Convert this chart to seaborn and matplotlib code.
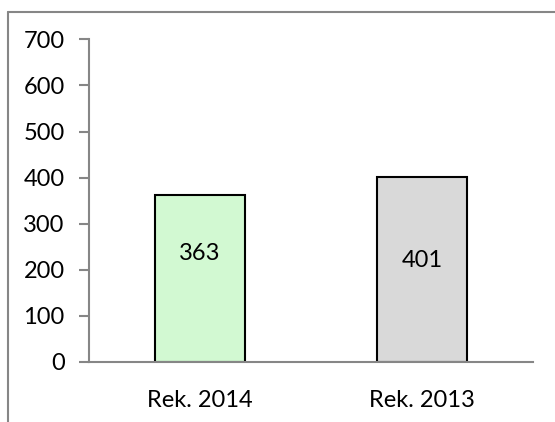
import matplotlib
matplotlib.use("Agg")
import matplotlib.pyplot as plt
from matplotlib.lines import Line2D
import seaborn as sns
import pandas as pd

# Values
categories = ["Rek. 2014", "Rek. 2013"]
values = [363, 401]
bar_colors = ["#CCFFCC", "#D9D9D9"]
y_ticks = [0, 100, 200, 300, 400, 500, 600, 700]

df = pd.DataFrame({"category": categories, "value": values})

sns.set_style("white")
plt.rcParams["font.family"] = ["Lato", "DejaVu Sans"]

fig = plt.figure(figsize=(5.55, 4.22), dpi=100)
ax = fig.add_axes([89 / 555, 1 - 362 / 422, (533 - 89) / 555, (362 - 39.3) / 422])

sns.barplot(data=df, x="category", y="value", hue="category",
            palette=bar_colors, width=0.405, edgecolor="black",
            linewidth=1.5, legend=False, ax=ax)

axis_gray = "#868686"
fs = 17
ax.set_ylim(0, 700)
ax.set_xlim(-0.5, 1.5)
ax.set_yticks(y_ticks)
ax.set_xlabel("")
ax.set_ylabel("")
for side in ("top", "right"):
    ax.spines[side].set_visible(False)
for side in ("left", "bottom"):
    ax.spines[side].set_color(axis_gray)
    ax.spines[side].set_linewidth(1.5)
ax.tick_params(axis="y", which="major", length=7, width=1.5, color=axis_gray,
               direction="out", left=True, labelsize=fs, pad=10.5)
ax.tick_params(axis="x", length=0, labelsize=fs, pad=20)
for lab in ax.get_yticklabels() + ax.get_xticklabels():
    lab.set_color("black")

# value labels inside bars
label_frac = [0.65, 0.55]
for i, (v, f) in enumerate(zip(values, label_frac)):
    ax.text(i, v * f, f"{v}", ha="center", va="center", fontsize=fs, color="black")

# outer chart frame (left and top edges)
fig.add_artist(Line2D([7.5 / 555, 7.5 / 555], [0, 1 - 11.5 / 422],
                      color=axis_gray, linewidth=1.5, transform=fig.transFigure))
fig.add_artist(Line2D([7.5 / 555, 1], [1 - 11.5 / 422, 1 - 11.5 / 422],
                      color=axis_gray, linewidth=1.5, transform=fig.transFigure))

fig.savefig("out.png", dpi=100)
